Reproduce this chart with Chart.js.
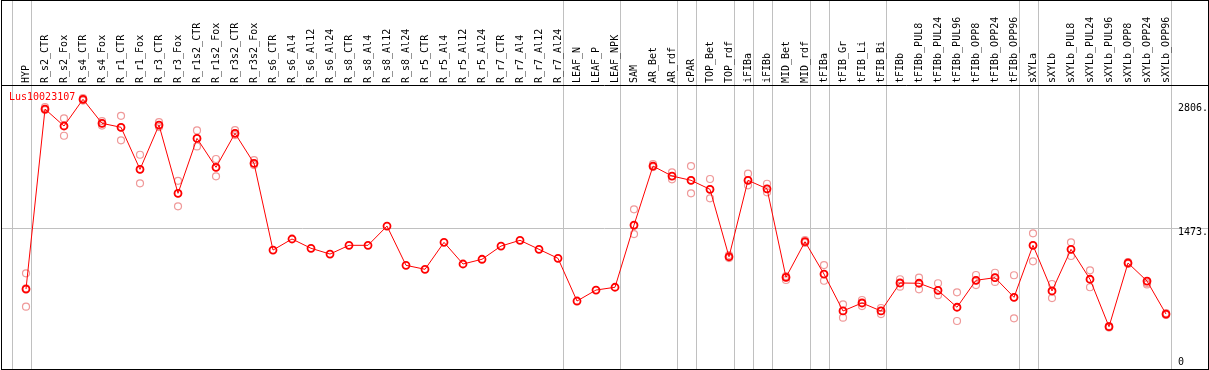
<!DOCTYPE html>
<html>
<head>
<meta charset="utf-8">
<script src="https://cdn.jsdelivr.net/npm/chart.js@4/dist/chart.umd.min.js"></script>
<style>
  html, body { margin: 0; padding: 0; background: #fff; }
  #wrap { width: 1209px; height: 370px; }
</style>
</head>
<body>
<div id="wrap"><canvas id="chart" width="1209" height="370"></canvas></div>
<script>
// sample names along the top
const categories = [
  "HYP", "R_s2_CTR", "R_s2_Fox", "R_s4_CTR", "R_s4_Fox", "R_r1_CTR", "R_r1_Fox", "R_r3_CTR", "R_r3_Fox",
  "R_r1s2_CTR", "R_r1s2_Fox", "R_r3s2_CTR", "R_r3s2_Fox",
  "R_s6_CTR", "R_s6_Al4", "R_s6_Al12", "R_s6_Al24", "R_s8_CTR", "R_s8_Al4", "R_s8_Al12", "R_s8_Al24",
  "R_r5_CTR", "R_r5_Al4", "R_r5_Al12", "R_r5_Al24", "R_r7_CTR", "R_r7_Al4", "R_r7_Al12", "R_r7_Al24",
  "LEAF_N", "LEAF_P", "LEAF_NPK",
  "SAM", "AR_Bet", "AR_rdf", "cPAR", "TOP_Bet", "TOP_rdf", "iFIBa", "iFIBb", "MID_Bet", "MID_rdf",
  "tFIBa", "tFIB_Gr", "tFIB_Li", "tFIB_Bi",
  "tFIBb", "tFIBb_PUL8", "tFIBb_PUL24", "tFIBb_PUL96", "tFIBb_OPP8", "tFIBb_OPP24", "tFIBb_OPP96",
  "sXYLa", "sXYLb", "sXYLb_PUL8", "sXYLb_PUL24", "sXYLb_PUL96", "sXYLb_OPP8", "sXYLb_OPP24", "sXYLb_OPP96"
];

// mean expression (red line)
const meanValues = [
  820, 2755, 2573, 2860, 2602, 2559, 2107, 2583, 1849, 2440, 2129, 2494, 2172,
  1239, 1358, 1258, 1196, 1290, 1290, 1497, 1075, 1032, 1322, 1089, 1140, 1282, 1344, 1247, 1150,
  691, 809, 839,
  1508, 2142, 2035, 1989, 1892, 1167, 1989, 1898, 946, 1329, 981, 584, 670, 584,
  885, 882, 806, 624, 914, 942, 731,
  1290, 799, 1247, 925, 415, 1100, 906, 551
];

// replicates (light circles), null where only one sample
const rep1 = [
  989, 2777, 2655, 2873, 2626, 2683, 2264, 2615, 1984, 2526, 2218, 2529, 2207,
  null, null, null, null, null, null, null, null, null, null, null, null, null, null, null, null,
  null, null, null,
  1677, 2164, 2075, 2142, 2003, 1186, 2060, 1952, 960, 1347, 1078, 656, 702, 616,
  925, 942, 882, 785, 971, 995, 968,
  1419, 874, 1322, 1021, 422, 1110, 906, 562
];
const rep2 = [
  828, 2755, 2573, 2860, 2602, 2559, 2107, 2583, 1849, 2440, 2129, 2494, 2172,
  null, null, null, null, null, null, null, null, null, null, null, null, null, null, null, null,
  null, null, null,
  1500, 2142, 2035, 1989, 1892, 1167, 1989, 1898, 946, 1329, 981, 584, 670, 584,
  885, 882, 806, 624, 914, 942, 731,
  1290, 799, 1247, 925, 415, 1100, 885, 551
];
const rep3 = [
  630, 2744, 2468, 2847, 2578, 2419, 1957, 2562, 1709, 2354, 2032, 2476, 2153,
  null, null, null, null, null, null, null, null, null, null, null, null, null, null, null, null,
  null, null, null,
  1411, 2131, 2000, 1849, 1795, 1153, 1935, 1860, 917, 1315, 909, 512, 637, 551,
  845, 817, 753, 476, 863, 896, 505,
  1118, 723, 1175, 839, 406, 1089, 869, 541
];

// gray separators sit just after these sample indices
const separatorAfter = [-1, 0, 28, 31, 34, 35, 37, 38, 39, 41, 42, 45, 52, 53, 60];
const yTickValues = [0, 1473, 2806];
const yTickLabels = ["0", "1473.", "2806."];
const gridValue = 1473;
const geneId = "Lus10023107";

const MONO = "10px 'DejaVu Sans Mono', 'Liberation Mono', monospace";

function toPoints(arr) {
  return arr.map((v, i) => ({ x: i, y: v }));
}

// draws the header names, separators, grid and frame
const decorPlugin = {
  id: 'decor',
  beforeDatasetsDraw(chart) {
    const ctx = chart.ctx;
    const xs = chart.scales.x, ys = chart.scales.y;
    const W = chart.width;
    ctx.save();
    ctx.strokeStyle = '#c0c0c0';
    ctx.lineWidth = 1;
    // horizontal grid at 1473
    const gy = Math.round(ys.getPixelForValue(gridValue)) + 0.5;
    ctx.beginPath();
    ctx.moveTo(1, gy);
    ctx.lineTo(W - 1, gy);
    ctx.stroke();
    // vertical separators
    separatorAfter.forEach(k => {
      const px = Math.round(xs.getPixelForValue(k + 0.25)) + 0.5;
      ctx.beginPath();
      ctx.moveTo(px, 0);
      ctx.lineTo(px, chart.height - 1);
      ctx.stroke();
    });
    ctx.restore();
  },
  afterDraw(chart) {
    const ctx = chart.ctx;
    const xs = chart.scales.x, ys = chart.scales.y;
    ctx.save();
    ctx.font = MONO;
    ctx.fillStyle = '#000';

    // rotated sample names
    categories.forEach((name, i) => {
      const px = xs.getPixelForValue(i);
      ctx.save();
      ctx.translate(px, 83);
      ctx.rotate(-Math.PI / 2);
      ctx.textAlign = 'left';
      ctx.textBaseline = 'middle';
      ctx.fillText(name, 0, 0);
      ctx.restore();
    });

    // right side value labels
    ctx.textAlign = 'left';
    ctx.textBaseline = 'middle';
    yTickValues.forEach((v, i) => {
      let py = ys.getPixelForValue(v) + 4;
      py = Math.min(py, chart.height - 8);
      ctx.fillText(yTickLabels[i], 1178, py);
    });

    // gene id
    ctx.fillStyle = '#ff0000';
    ctx.textAlign = 'left';
    ctx.textBaseline = 'top';
    ctx.fillText(geneId, 9, 92);

    // frame and header line
    ctx.strokeStyle = '#000';
    ctx.lineWidth = 1;
    ctx.strokeRect(1.5, 0.5, 1207, 369);
    ctx.beginPath();
    ctx.moveTo(1, 85.5);
    ctx.lineTo(1208, 85.5);
    ctx.stroke();
    ctx.restore();
  }
};

const repStyle = {
  type: 'scatter',
  showLine: false,
  pointStyle: 'circle',
  pointRadius: 3.5,
  pointBorderWidth: 1.2,
  pointBorderColor: 'rgba(232, 110, 110, 0.7)',
  pointBackgroundColor: 'rgba(0,0,0,0)'
};

new Chart(document.getElementById('chart'), {
  type: 'line',
  data: {
    datasets: [
      {
        label: 'mean',
        data: toPoints(meanValues),
        borderColor: '#ff0000',
        borderWidth: 1,
        pointStyle: 'circle',
        pointRadius: 3.5,
        pointBorderWidth: 1.8,
        pointBorderColor: '#ff0000',
        pointBackgroundColor: 'rgba(0,0,0,0)',
        tension: 0
      },
      Object.assign({ label: 'rep1', data: toPoints(rep1) }, repStyle),
      Object.assign({ label: 'rep2', data: toPoints(rep2) }, repStyle),
      Object.assign({ label: 'rep3', data: toPoints(rep3) }, repStyle)
    ]
  },
  options: {
    responsive: false,
    animation: false,
    devicePixelRatio: 1,
    layout: { autoPadding: false, padding: { left: 1, right: 1, top: 85, bottom: 1 } },
    plugins: {
      legend: { display: false },
      tooltip: { enabled: false }
    },
    scales: {
      x: { type: 'linear', display: false, min: -1.316, max: 62.21 },
      y: { type: 'linear', display: false, min: -40, max: 3014 }
    }
  },
  plugins: [decorPlugin]
});
</script>
</body>
</html>
